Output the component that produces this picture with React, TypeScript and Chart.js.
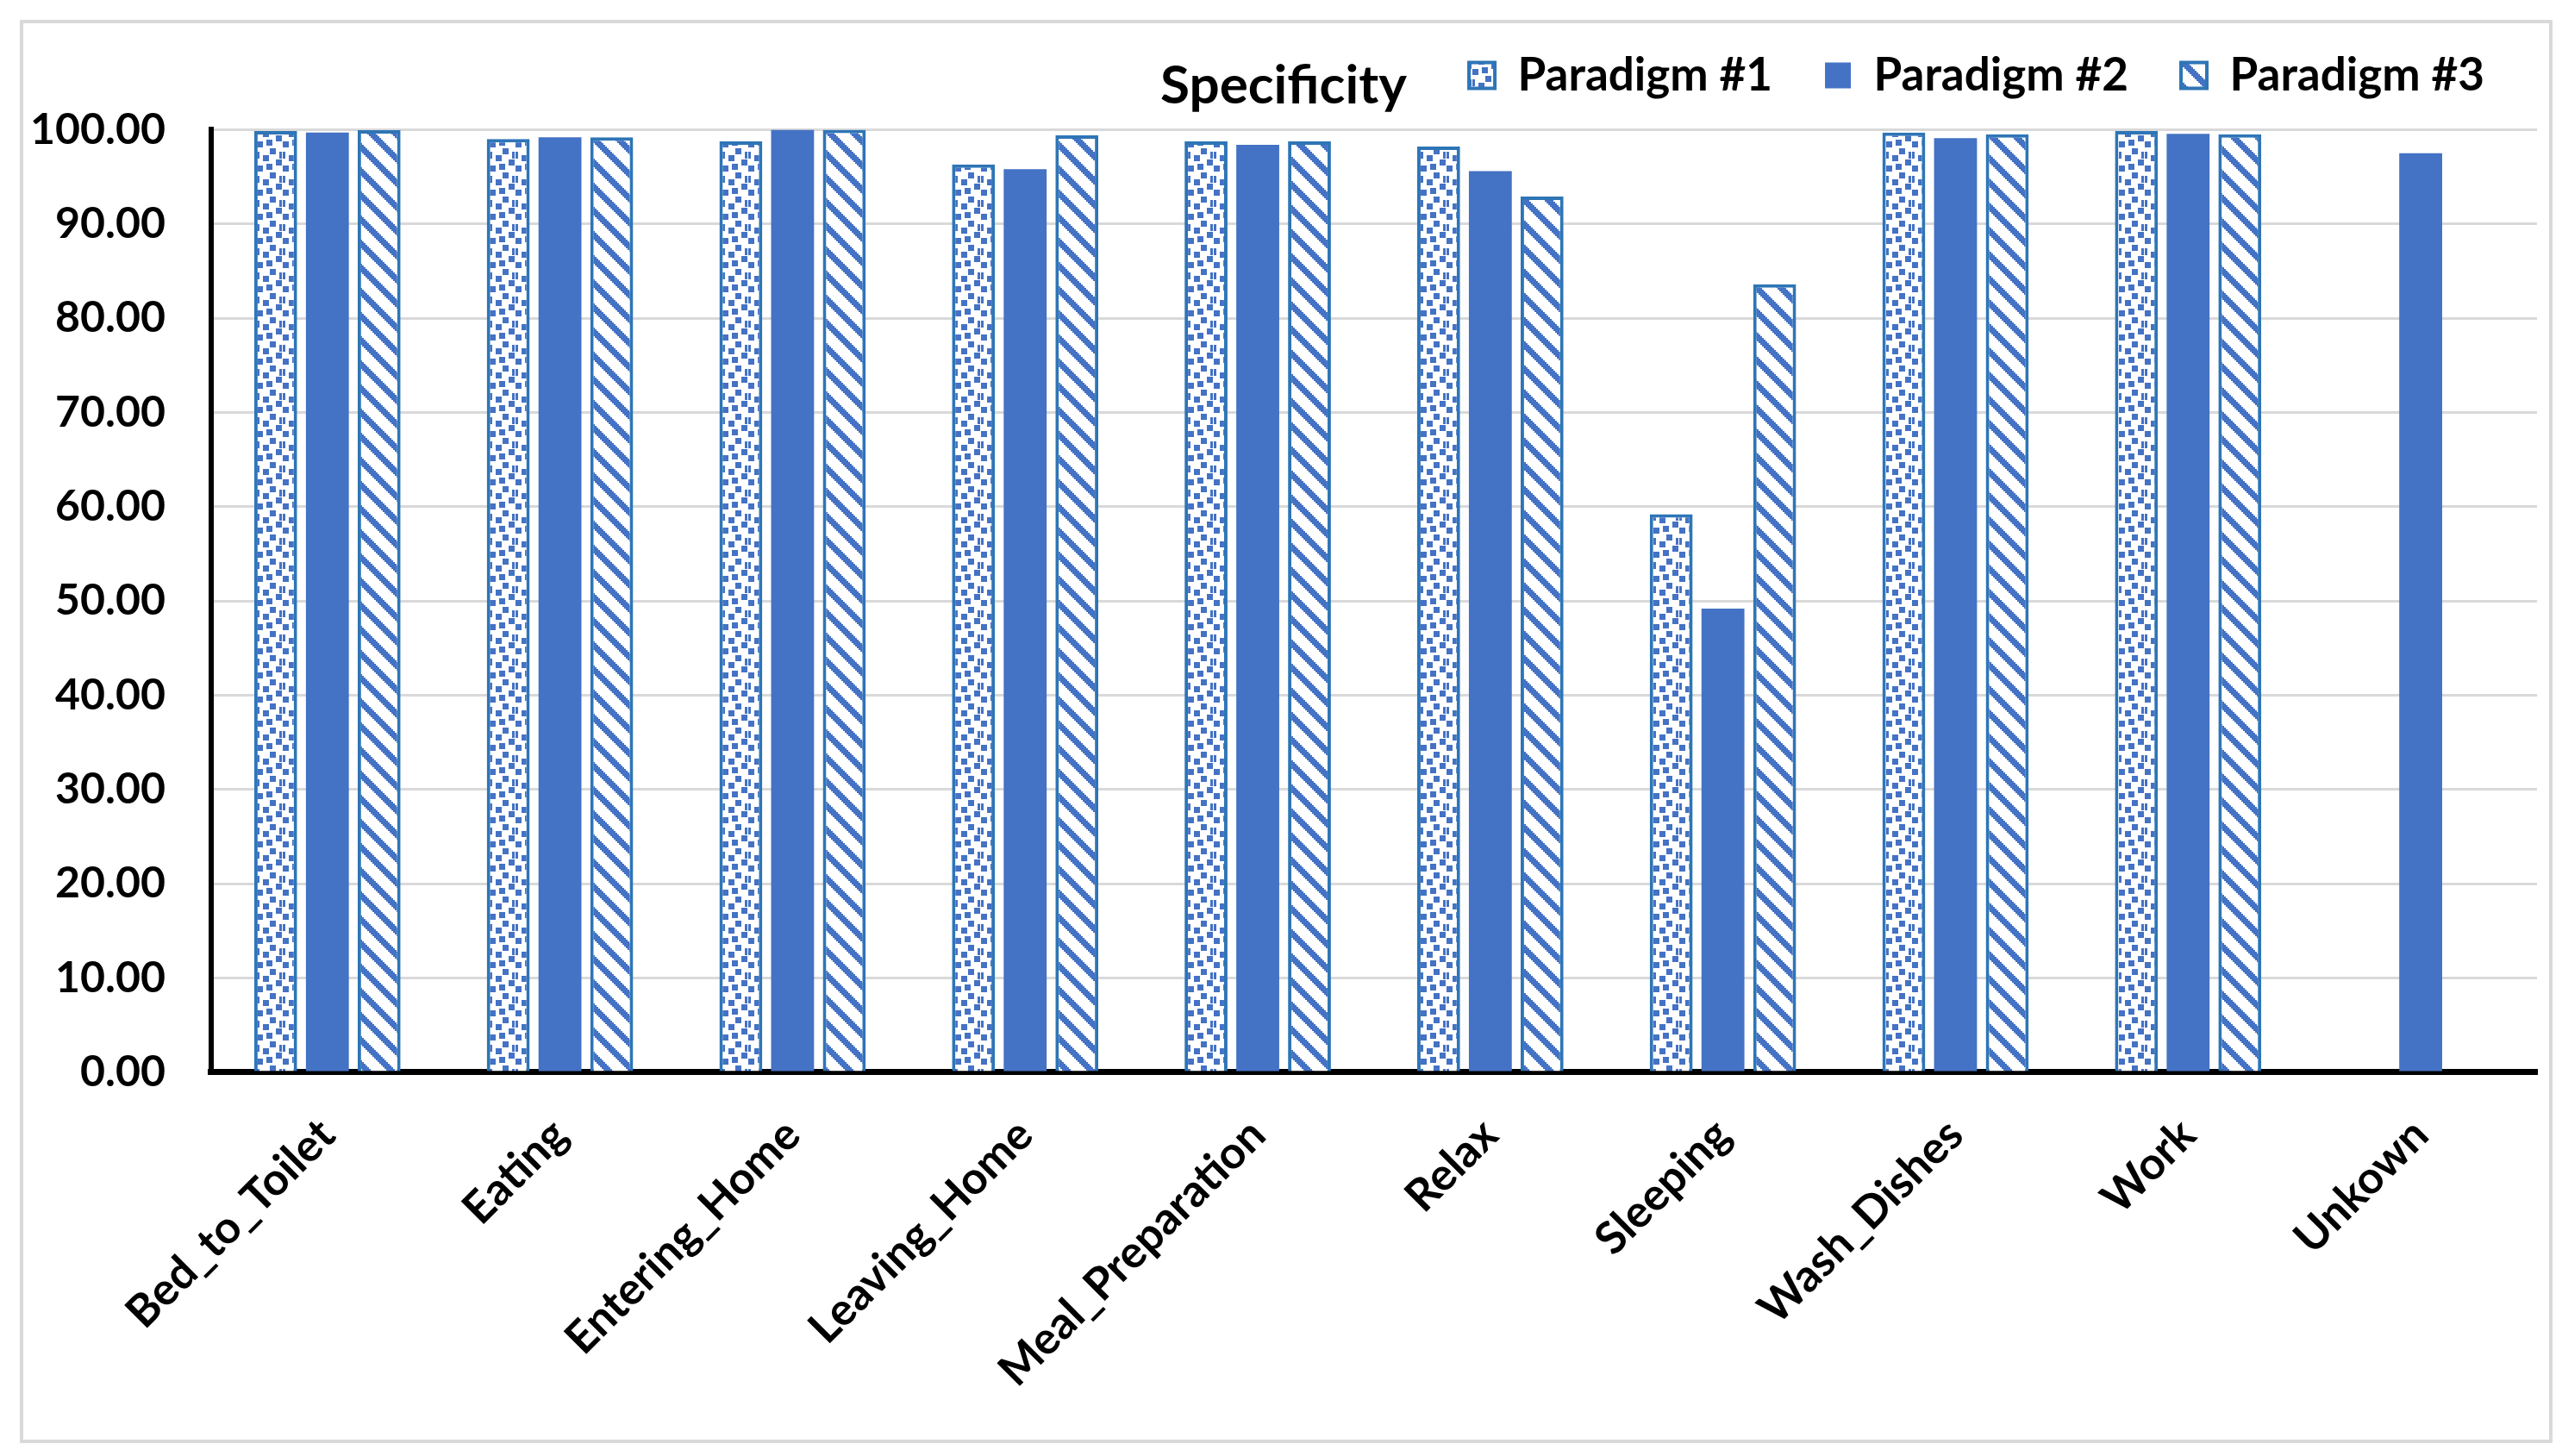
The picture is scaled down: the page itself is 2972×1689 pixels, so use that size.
import React, { useEffect, useRef } from "react";
import { Chart, registerables } from "chart.js";

Chart.register(...registerables);

// ---- data ----
const categories = [
  "Bed_to_Toilet",
  "Eating",
  "Entering_Home",
  "Leaving_Home",
  "Meal_Preparation",
  "Relax",
  "Sleeping",
  "Wash_Dishes",
  "Work",
  "Unkown",
];
const seriesNames = ["Paradigm #1", "Paradigm #2", "Paradigm #3"];
const paradigm1 = [99.85, 99.0, 98.75, 96.3, 98.75, 98.2, 59.2, 99.7, 99.85, null];
const paradigm2 = [99.7, 99.2, 100.0, 95.8, 98.4, 95.6, 49.2, 99.1, 99.55, 97.5];
const paradigm3 = [99.95, 99.2, 100.0, 99.4, 98.75, 92.9, 83.6, 99.5, 99.5, null];
const yMin = 0;
const yMax = 100;
const yStep = 10;
const chartTitle = "Specificity";

// ---- style ----
const BLUE = "#4472C4";
const EDGE = "#2E75B6";
const FONT = "Lato";
const Y_TICK_PAD = 53;

function makeConfettiPattern(ctx: CanvasRenderingContext2D) {
  const W = 30;
  const H = 28;
  const c = document.createElement("canvas");
  c.width = W;
  c.height = H;
  const g = c.getContext("2d")!;
  g.fillStyle = "#ffffff";
  g.fillRect(0, 0, W, H);
  g.fillStyle = BLUE;
  const rects: [number, number, number, number][] = [
    [13, 4, 7, 7],
    [5, 12, 7, 7],
    [24, 8, 3, 8],
    [28, 8, 3, 8],
    [20, 17, 7, 7],
    [9, 22, 7, 7],
    [28, 24, 7, 7],
  ];
  for (const [x, y, w, h] of rects) {
    for (const dx of [-W, 0, W]) {
      for (const dy of [-H, 0, H]) {
        g.fillRect(x + dx, y + dy, w, h);
      }
    }
  }
  return ctx.createPattern(c, "repeat")!;
}

function makeStripePattern(ctx: CanvasRenderingContext2D) {
  const S = 28;
  const c = document.createElement("canvas");
  c.width = S;
  c.height = S;
  const g = c.getContext("2d")!;
  g.fillStyle = "#ffffff";
  g.fillRect(0, 0, S, S);
  g.fillStyle = BLUE;
  for (let y = 0; y < S; y += 2) {
    for (let x = 0; x < S; x += 2) {
      const d = (((y - x) % S) + S) % S;
      if (d < 9) g.fillRect(x, y, 2, 2);
    }
  }
  return ctx.createPattern(c, "repeat")!;
}

export default function App() {
  const canvasRef = useRef<HTMLCanvasElement | null>(null);

  useEffect(() => {
    const canvas = canvasRef.current;
    if (!canvas) return;
    const ctx = canvas.getContext("2d")!;
    const p1 = makeConfettiPattern(ctx);
    const p3 = makeStripePattern(ctx);

    const chart = new Chart(ctx, {
      type: "bar",
      data: {
        labels: categories,
        datasets: [
          {
            label: seriesNames[0],
            data: paradigm1,
            backgroundColor: p1,
            borderColor: EDGE,
            borderWidth: 4,
            borderSkipped: "bottom",
          },
          {
            label: seriesNames[1],
            data: paradigm2,
            backgroundColor: BLUE,
            borderColor: BLUE,
            borderWidth: 0,
          },
          {
            label: seriesNames[2],
            data: paradigm3,
            backgroundColor: p3,
            borderColor: EDGE,
            borderWidth: 4,
            borderSkipped: "bottom",
          },
        ],
      },
      options: {
        responsive: false,
        maintainAspectRatio: false,
        animation: false,
        devicePixelRatio: 1,
        datasets: {
          bar: {
            categoryPercentage: 0.667,
            barPercentage: 0.83,
          },
        },
        layout: {
          padding: { left: 35, right: 29, top: 0, bottom: 26 },
        },
        plugins: {
          title: {
            display: true,
            text: chartTitle,
            color: "#000000",
            font: { family: FONT, size: 62, weight: "bold" },
            weight: 500,
            padding: { top: -61, bottom: 13 },
          },
          legend: {
            display: true,
            position: "top",
            align: "end",
            labels: {
              boxWidth: 30,
              boxHeight: 30,
              padding: 61,
              color: "#000000",
              font: { family: FONT, size: 53, weight: "bold" },
            },
          },
          tooltip: { enabled: false },
        },
        scales: {
          x: {
            grid: { display: false, drawTicks: false },
            border: { display: true, color: "#000000", width: 7 },
            ticks: {
              color: "#000000",
              font: { family: FONT, size: 52, weight: "bold" },
              minRotation: 45,
              maxRotation: 45,
              autoSkip: false,
              padding: 42,
            },
            afterFit: (s: any) => {
              s.paddingLeft = 0;
              s.paddingRight = 0;
            },
          },
          y: {
            min: yMin,
            max: yMax,
            grid: { color: "#D9D9D9", lineWidth: 3, drawTicks: false },
            border: { display: true, color: "#000000", width: 6 },
            ticks: {
              stepSize: yStep,
              color: "#000000",
              font: { family: FONT, size: 50, weight: "bold" },
              padding: Y_TICK_PAD,
              callback: (v: any) => Number(v).toFixed(2),
            },
            afterFit: (s: any) => {
              s.width = s.width - Y_TICK_PAD;
            },
          },
        },
      },
    });
    return () => chart.destroy();
  }, []);

  return (
    <div
      style={{
        position: "absolute",
        left: 0,
        top: 0,
        width: 2972,
        height: 1689,
        background: "#ffffff",
        overflow: "hidden",
      }}
    >
      <canvas
        ref={canvasRef}
        width={2972}
        height={1689}
        style={{ position: "absolute", left: 0, top: 0, width: 2972, height: 1689 }}
      />
      <div
        style={{
          position: "absolute",
          left: 23,
          top: 23,
          width: 2938,
          height: 1651,
          border: "4px solid #D9D9D9",
          boxSizing: "border-box",
          pointerEvents: "none",
        }}
      />
    </div>
  );
}
